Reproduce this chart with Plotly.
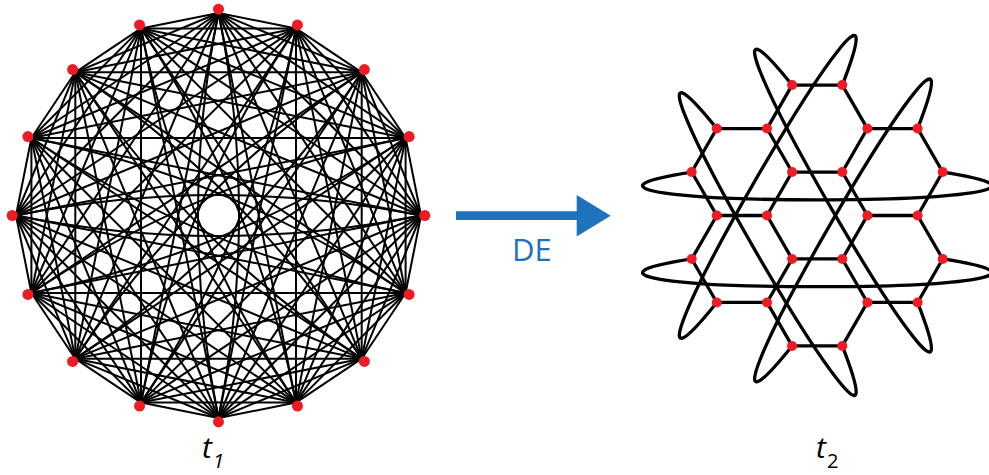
import numpy as np
import plotly.graph_objects as go

W, H = 989, 475

# ---------------- data ----------------
# t1: 16 nodes on a circle, every pair joined; opposite pairs drawn as two bowed arcs
t1_nodes = 16
t1_steps = [1, 2, 3, 4, 5, 6, 7]
t1_opposite_step = 8
t1_arc_bow = [-1, 1]

# t2: 24 nodes on a hexagonal lattice (x in edge lengths, row index)
t2_x = [-0.5, 0.5, -2, -1, 1, 2, -2.5, -0.5, 0.5, 2.5, -2, -1, 1, 2,
        -2.5, -0.5, 0.5, 2.5, -2, -1, 1, 2, -0.5, 0.5]
t2_row = [-3, -3, -2, -2, -2, -2, -1, -1, -1, -1, 0, 0, 0, 0,
          1, 1, 1, 1, 2, 2, 2, 2, 3, 3]
t2_edges = [(0, 1), (2, 3), (4, 5), (7, 8), (10, 11), (12, 13), (15, 16), (18, 19), (20, 21), (22, 23),
            (0, 3), (1, 4), (2, 6), (5, 9), (3, 7), (4, 8), (6, 10), (9, 13), (7, 11), (8, 12),
            (11, 15), (12, 16), (10, 14), (13, 17), (14, 18), (15, 19), (16, 20), (17, 21), (19, 22), (20, 23)]
t2_wrap_edges = [(6, 9), (14, 17), (2, 23), (0, 21), (1, 18), (5, 22)]

labels = ["t", "t"]
subs = ["1", "2"]
arrow_label = "DE"

# ---------------- styling ----------------
RED = "#ED1C24"
BLUE = "#1F72BD"

def px(x):
    return x / W

def py(y):
    return 1 - y / H

fig = go.Figure()
shapes = []

# ---- t1 (left) ----
S1 = 202.5          # px per unit
cx1, cy1 = 218.5, 215.5
ang = np.arange(t1_nodes) * 2 * np.pi / t1_nodes
nx1 = np.sin(ang)
ny1 = -np.cos(ang)
ex, ey = [], []
for i in range(t1_nodes):
    for s in t1_steps:
        j = (i + s) % t1_nodes
        ex += [nx1[i], nx1[j], None]
        ey += [ny1[i], ny1[j], None]
fig.add_trace(go.Scatter(x=ex, y=ey, mode="lines", line=dict(color="black", width=2),
                         xaxis="x", yaxis="y", hoverinfo="skip", showlegend=False))

bow = 2 * 20.5 / S1   # control offset -> curve passes ~20 px from the centre
for i in range(t1_nodes // 2):
    j = i + t1_opposite_step
    A = np.array([nx1[i], ny1[i]])
    B = np.array([nx1[j], ny1[j]])
    d = (B - A) / np.linalg.norm(B - A)
    n = np.array([-d[1], d[0]])
    mid = (A + B) / 2
    for sgn in t1_arc_bow:
        C = mid + sgn * bow * n
        shapes.append(dict(type="path", xref="x", yref="y", layer="below",
                           path="M {},{} Q {},{} {},{}".format(A[0], A[1], C[0], C[1], B[0], B[1]),
                           line=dict(color="black", width=2)))

dot_r = 206.3 / S1
fig.add_trace(go.Scatter(x=nx1 * dot_r, y=ny1 * dot_r, mode="markers",
                         marker=dict(color=RED, size=11, line=dict(width=0)),
                         xaxis="x", yaxis="y", showlegend=False))

# ---- t2 (right) ----
S2 = 50.2
cx2, cy2 = 817.2, 215.5
hh = np.sqrt(3) / 2
X2 = np.array(t2_x, dtype=float)
Y2 = np.array(t2_row, dtype=float) * hh
ex, ey = [], []
for a, b in t2_edges:
    ex += [X2[a], X2[b], None]
    ey += [Y2[a], Y2[b], None]
fig.add_trace(go.Scatter(x=ex, y=ey, mode="lines", line=dict(color="black", width=3.3),
                         xaxis="x2", yaxis="y2", hoverinfo="skip", showlegend=False))

K = 240 / S2
M = 37 / S2
for a, b in t2_wrap_edges:
    A = np.array([X2[a], Y2[a]])
    B = np.array([X2[b], Y2[b]])
    d = (B - A) / np.linalg.norm(B - A)
    n = np.array([-d[1], d[0]])
    P1 = A - K * d + M * n
    P2 = B + K * d + M * n
    path = "M {},{} C {},{} {},{} {},{}".format(A[0], A[1], P1[0], P1[1], P2[0], P2[1], B[0], B[1])
    shapes.append(dict(type="path", path=path, xref="x2", yref="y2",
                       line=dict(color="black", width=3.3), layer="below"))

fig.add_trace(go.Scatter(x=X2, y=Y2, mode="markers",
                         marker=dict(color=RED, size=10, line=dict(width=0)),
                         xaxis="x2", yaxis="y2", showlegend=False))

# ---- arrow ----
shaft_y0, shaft_y1 = 211.3, 220.1
shapes.append(dict(type="rect", xref="paper", yref="paper",
                   x0=px(456), x1=px(578), y0=py(shaft_y1), y1=py(shaft_y0),
                   fillcolor=BLUE, line=dict(width=0)))
tri = "M {},{} L {},{} L {},{} Z".format(px(576.7), py(195), px(610.7), py(215.7), px(576.7), py(236.5))
shapes.append(dict(type="path", path=tri, xref="paper", yref="paper",
                   fillcolor=BLUE, line=dict(width=0)))

annotations = [
    dict(text=arrow_label, x=px(532), y=py(249), xref="paper", yref="paper", showarrow=False,
         xanchor="center", yanchor="middle", font=dict(family="Open Sans", size=31, color=BLUE)),
    dict(text="<i>" + labels[0] + "</i>", x=px(207), y=py(446), xref="paper", yref="paper",
         showarrow=False, xanchor="center", yanchor="middle",
         font=dict(family="Open Sans", size=30, color="black")),
    dict(text="<i>" + subs[0] + "</i>", x=px(218), y=py(460), xref="paper", yref="paper",
         showarrow=False, xanchor="center", yanchor="middle",
         font=dict(family="Open Sans", size=20, color="black")),
    dict(text="<i>" + labels[1] + "</i>", x=px(821), y=py(446), xref="paper", yref="paper",
         showarrow=False, xanchor="center", yanchor="middle",
         font=dict(family="Open Sans", size=30, color="black")),
    dict(text=subs[1], x=px(832), y=py(460), xref="paper", yref="paper",
         showarrow=False, xanchor="center", yanchor="middle",
         font=dict(family="Open Sans", size=20, color="black")),
]

ax_common = dict(visible=False, showgrid=False, zeroline=False, fixedrange=True)
dom_y = [py(431), py(0)]
fig.update_layout(
    width=W, height=H, margin=dict(l=0, r=0, t=0, b=0),
    paper_bgcolor="white", plot_bgcolor="rgba(0,0,0,0)",
    xaxis=dict(domain=[px(0), px(437)], range=[-cx1 / S1, (437 - cx1) / S1], **ax_common),
    yaxis=dict(domain=dom_y, range=[(431 - cy1) / S1, -cy1 / S1], **ax_common),
    xaxis2=dict(domain=[px(600), px(989)], range=[(600 - cx2) / S2, (989 - cx2) / S2], **ax_common),
    yaxis2=dict(domain=dom_y, range=[(431 - cy2) / S2, -cy2 / S2], **ax_common),
    shapes=shapes, annotations=annotations, showlegend=False,
)

fig.write_html("out.html")
